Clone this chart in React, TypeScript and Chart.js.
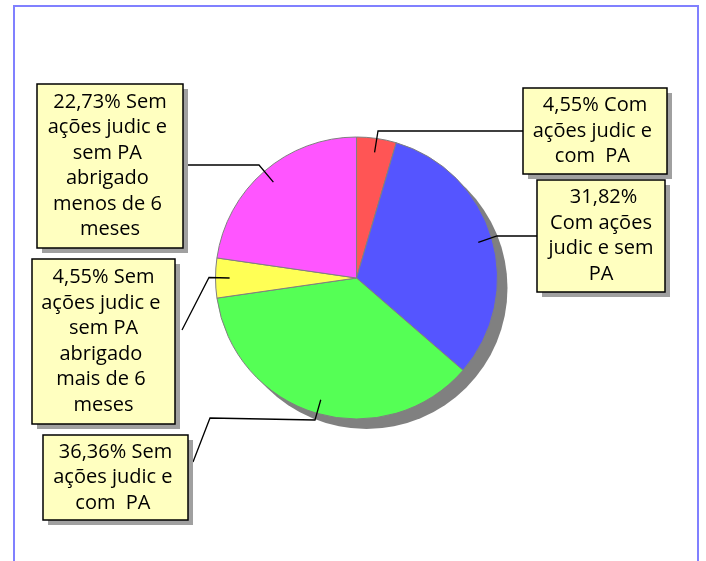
import React, { useEffect, useRef } from "react";
import { Chart, registerables } from "chart.js";

Chart.register(...registerables);

const categories = [
  "Com ações judic e com PA",
  "Com ações judic e sem PA",
  "Sem ações judic e com PA",
  "Sem ações judic e sem PA abrigado mais de 6 meses",
  "Sem ações judic e sem PA abrigado menos de 6 meses",
];
const values = [4.55, 31.82, 36.36, 4.55, 22.73];
const sliceColors = ["#FF5555", "#5555FF", "#55FF55", "#FFFF55", "#FF55FF"];
const labelLines = [
  ["4,55% Com", "ações judic e ", "com  PA "],
  [" 31,82%", "Com ações", "judic e sem", "PA"],
  ["36,36% Sem", "ações judic e ", "com  PA "],
  ["4,55% Sem", "ações judic e ", "sem PA", "abrigado ", "mais de 6 ", "meses"],
  ["22,73% Sem", "ações judic e ", "sem PA ", "abrigado ", "menos de 6 ", "meses"],
];

// layout of callout boxes and leader elbows (pixels)
const boxes = [
  { x: 523, y: 88, w: 144, h: 86, path: [[378, 131], [523, 131]] },
  { x: 537, y: 180, w: 128, h: 112, path: [[497, 236], [537, 236]] },
  { x: 43, y: 435, w: 145, h: 85, path: [[315, 420], [210, 418], [193, 462]] },
  { x: 32, y: 259, w: 143, h: 165, path: [[209, 277.5], [182, 330]] },
  { x: 37, y: 84, w: 146, h: 164, path: [[259, 165], [182, 165]] },
];

const FONT = '20px "Open Sans"';
const LINE_H = 25.5;

const decorPlugin = {
  id: "decor",
  beforeDraw(chart: any) {
    const ctx = chart.ctx;
    ctx.save();
    ctx.fillStyle = "#ffffff";
    ctx.fillRect(0, 0, chart.width, chart.height);
    ctx.strokeStyle = "#8080FF";
    ctx.lineWidth = 2;
    ctx.beginPath();
    ctx.moveTo(14, 600);
    ctx.lineTo(14, 6);
    ctx.lineTo(698, 6);
    ctx.lineTo(698, 600);
    ctx.stroke();
    ctx.restore();
  },
  beforeDatasetsDraw(chart: any) {
    const meta = chart.getDatasetMeta(0);
    const arc = meta.data[0];
    if (!arc) return;
    const ctx = chart.ctx;
    ctx.save();
    ctx.fillStyle = "#808080";
    ctx.beginPath();
    ctx.arc(arc.x + 10, arc.y + 10, arc.outerRadius, 0, Math.PI * 2);
    ctx.fill();
    ctx.restore();
  },
  afterDatasetsDraw(chart: any) {
    const meta = chart.getDatasetMeta(0);
    const ctx = chart.ctx;
    ctx.save();
    meta.data.forEach((arc: any, i: number) => {
      const b = boxes[i];
      const mid = (arc.startAngle + arc.endAngle) / 2;
      const r = arc.outerRadius * 0.9;
      const ax = arc.x + Math.cos(mid) * r;
      const ay = arc.y + Math.sin(mid) * r;
      ctx.strokeStyle = "#000000";
      ctx.lineWidth = 1.3;
      ctx.beginPath();
      ctx.moveTo(ax, ay);
      b.path.forEach((p) => ctx.lineTo(p[0], p[1]));
      ctx.stroke();
      // box shadow
      ctx.fillStyle = "#A0A0A0";
      ctx.fillRect(b.x + 5, b.y + 5, b.w, b.h);
      ctx.fillStyle = "#FFFFC0";
      ctx.fillRect(b.x, b.y, b.w, b.h);
      ctx.strokeStyle = "#000000";
      ctx.lineWidth = 1.5;
      ctx.strokeRect(b.x, b.y, b.w, b.h);
      ctx.fillStyle = "#000000";
      ctx.font = FONT;
      ctx.textAlign = "center";
      ctx.textBaseline = "middle";
      const lines = labelLines[i];
      const total = lines.length * LINE_H;
      const top = b.y + (b.h - total) / 2;
      lines.forEach((t, j) => {
        ctx.fillText(t, b.x + b.w / 2, top + (j + 0.5) * LINE_H);
      });
    });
    ctx.restore();
  },
};

export default function App() {
  const ref = useRef<HTMLCanvasElement | null>(null);
  useEffect(() => {
    if (!ref.current) return;
    const chart = new Chart(ref.current, {
      type: "pie",
      data: {
        labels: categories,
        datasets: [
          {
            data: values,
            backgroundColor: sliceColors,
            borderColor: "#808080",
            borderWidth: 1,
          },
        ],
      },
      options: {
        responsive: false,
        animation: false,
        layout: { padding: { left: 215, right: 208, top: 136.5, bottom: 141.5 } },
        plugins: {
          legend: { display: false },
          tooltip: { enabled: false },
        },
      },
      plugins: [decorPlugin],
    });
    return () => chart.destroy();
  }, []);
  return (
    <div style={{ position: "fixed", left: 0, top: 0, width: 706, height: 561 }}>
      <canvas ref={ref} width={706} height={561} style={{ display: "block" }} />
    </div>
  );
}
